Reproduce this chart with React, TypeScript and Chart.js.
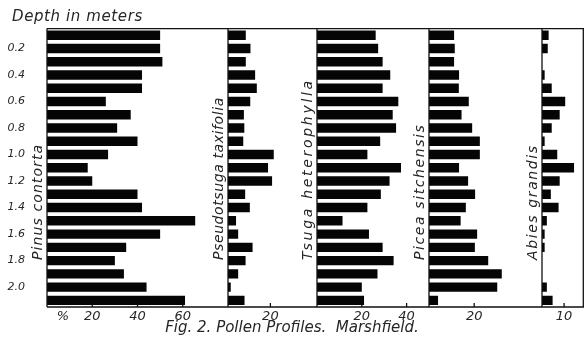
import { useEffect, useRef } from 'react';
import { Chart, registerables } from 'chart.js';

Chart.register(...registerables);

// ---- data ----
const depths = ['0.1', '0.2', '0.3', '0.4', '0.5', '0.6', '0.7', '0.8', '0.9', '1.0', '1.1', '1.2', '1.3', '1.4', '1.5', '1.6', '1.7', '1.8', '1.9', '2.0', '2.1'];
const depthLabelsShown = ['0.2', '0.4', '0.6', '0.8', '1.0', '1.2', '1.4', '1.6', '1.8', '2.0'];

const species = ['Pinus contorta', 'Pseudotsuga taxifolia', 'Tsuga heterophylla', 'Picea sitchensis', 'Abies grandis'];

const pinus = [50, 50, 51, 42, 42, 26, 37, 31, 40, 27, 18, 20, 40, 42, 65.5, 50, 35, 30, 34, 44, 61];
const pseudotsuga = [8.4, 10.6, 8.4, 12.8, 13.6, 10.5, 7.5, 7.7, 7.2, 21.6, 18.9, 20.8, 8.1, 10.3, 3.8, 4.8, 11.6, 8.3, 4.8, 1.3, 7.8];
const tsuga = [26.2, 27.3, 29.3, 32.7, 29.3, 36.3, 33.8, 35.3, 28.2, 22.5, 37.5, 32.4, 28.5, 22.5, 11.4, 23.2, 29.3, 34.2, 27, 20, 21];
const picea = [11.1, 11.4, 11.1, 13.3, 13.2, 17.6, 14.4, 19.1, 22.5, 22.5, 13.3, 17.3, 20.4, 16.3, 14, 21.3, 20.3, 26.2, 32.2, 30.2, 4];
const abies = [3, 2.6, 0, 1.2, 4.4, 10.5, 8, 4.4, 1.2, 6.9, 14.5, 8, 4, 7.5, 2.2, 1.2, 1.2, 0, 0, 2.2, 4.8];

const axisMax = [80, 42, 50, 50, 19];

const pinusTicks = [7, 20, 40, 60];
const pinusTickLabels = ['%', '20', '40', '60'];
const pseudoTicks = [20];
const pseudoTickLabels = ['20'];
const tsugaTicks = [20, 40];
const tsugaTickLabels = ['20', '40'];
const piceaTicks = [20];
const piceaTickLabels = ['20'];
const abiesTicks = [10];
const abiesTickLabels = ['10'];

const titleText = 'Fig. 2. Pollen Profiles.  Marshfield.';
const depthTitle = 'Depth in meters';

// ---- style ----
const FONT = '"DejaVu Sans", sans-serif';
const INK = '#262626';
const LINE = '#111111';
const BAR = '#050505';
const panelWeights = [181, 89, 112, 113, 42];
const labelTracking = [1.1, 0.6, 2.7, 1.6, 1.6];

export default function App() {
  const ref = useRef<HTMLCanvasElement | null>(null);

  useEffect(() => {
    if (!ref.current) return;
    const series = [pinus, pseudotsuga, tsuga, picea, abies];
    const ids = ['xPinus', 'xPseudo', 'xTsuga', 'xPicea', 'xAbies'];
    const tickVals = [pinusTicks, pseudoTicks, tsugaTicks, piceaTicks, abiesTicks];
    const tickLabs = [pinusTickLabels, pseudoTickLabels, tsugaTickLabels, piceaTickLabels, abiesTickLabels];

    const scales: any = {
      y: {
        type: 'category',
        position: 'left',
        offset: true,
        grid: { display: false, drawTicks: false },
        border: { display: false },
        ticks: {
          autoSkip: false,
          padding: 22,
          color: INK,
          font: { family: FONT, size: 11, style: 'italic' },
          callback: (_v: any, i: number) => (depthLabelsShown.includes(depths[i]) ? depths[i] : ''),
        },
        afterFit: (s: any) => {
          s.width = 47;
        },
      },
    };

    ids.forEach((id, k) => {
      scales[id] = {
        type: 'linear',
        position: 'bottom',
        stack: 'panels',
        stackWeight: panelWeights[k],
        min: 0,
        max: axisMax[k],
        grid: { display: false, drawTicks: false },
        border: { display: false },
        afterBuildTicks: (s: any) => {
          s.ticks = tickVals[k].map((v) => ({ value: v }));
        },
        ticks: {
          autoSkip: false,
          maxRotation: 0,
          minRotation: 0,
          padding: 2,
          color: INK,
          font: { family: FONT, size: 13, style: 'italic' },
          callback: (v: any) => {
            const j = tickVals[k].indexOf(Number(v));
            return j >= 0 ? tickLabs[k][j] : '';
          },
        },
        afterFit: (s: any) => {
          s.height = 14;
        },
      };
    });

    const panelPlugin = {
      id: 'panels',
      afterDatasetsDraw(chart: any) {
        const { ctx, chartArea: a } = chart;
        ctx.save();
        ctx.strokeStyle = LINE;
        ctx.lineWidth = 1.3;
        ctx.beginPath();
        ctx.moveTo(a.left, a.top);
        ctx.lineTo(a.right, a.top);
        ctx.moveTo(a.left, a.bottom);
        ctx.lineTo(a.right, a.bottom);
        ids.forEach((id) => {
          const s = chart.scales[id];
          const x = s.getPixelForValue(0);
          ctx.moveTo(x, a.top);
          ctx.lineTo(x, a.bottom);
        });
        const last = chart.scales[ids[ids.length - 1]];
        const xr = last.getPixelForValue(axisMax[axisMax.length - 1]) - 0.7;
        ctx.moveTo(xr, a.top);
        ctx.lineTo(xr, a.bottom);
        ids.forEach((id, k) => {
          const s = chart.scales[id];
          tickVals[k].forEach((v, j) => {
            if (!/^\d/.test(tickLabs[k][j])) return;
            const x = s.getPixelForValue(v);
            ctx.moveTo(x, a.bottom);
            ctx.lineTo(x, a.bottom - 4);
          });
        });
        ctx.stroke();

        ctx.fillStyle = INK;
        ctx.font = `italic 14px ${FONT}`;
        ctx.textAlign = 'left';
        ctx.textBaseline = 'middle';
        ids.forEach((id, k) => {
          const s = chart.scales[id];
          const x = s.getPixelForValue(0) - 9;
          const y = a.bottom - 47;
          ctx.save();
          (ctx as any).letterSpacing = `${labelTracking[k]}px`;
          ctx.translate(x, y);
          ctx.rotate(-Math.PI / 2);
          ctx.fillText(species[k], 0, 0);
          ctx.restore();
        });

        // depth axis heading, above the depth labels
        ctx.save();
        (ctx as any).letterSpacing = '0.6px';
        ctx.font = `italic 15px ${FONT}`;
        ctx.textBaseline = 'middle';
        ctx.textAlign = 'left';
        ctx.fillText(depthTitle, a.left - 35, a.top - 11);
        ctx.restore();
        ctx.restore();
      },
    };

    const chart = new Chart(ref.current, {
      type: 'bar',
      data: {
        labels: depths,
        datasets: series.map((d, k) => ({
          label: species[k],
          data: d,
          xAxisID: ids[k],
          yAxisID: 'y',
          backgroundColor: BAR,
          borderWidth: 0,
          grouped: false,
          barPercentage: 0.71,
          categoryPercentage: 1,
        })),
      } as any,
      options: {
        indexAxis: 'y',
        responsive: false,
        animation: false,
        layout: { padding: { left: 0, top: 27, right: 0, bottom: 2 } },
        scales,
        plugins: {
          legend: { display: false },
          tooltip: { enabled: false },
          title: {
            display: true,
            position: 'bottom',
            text: titleText,
            color: INK,
            padding: 0,
            font: { family: FONT, size: 15, style: 'italic', weight: 'normal', lineHeight: 1 },
          },
        },
      } as any,
      plugins: [panelPlugin],
    });
    return () => chart.destroy();
  }, []);

  return (
    <div style={{ position: 'fixed', left: 0, top: 0, width: 584, height: 338, background: '#fff' }}>
      <canvas ref={ref} width={584} height={338} style={{ display: 'block' }} />
    </div>
  );
}
